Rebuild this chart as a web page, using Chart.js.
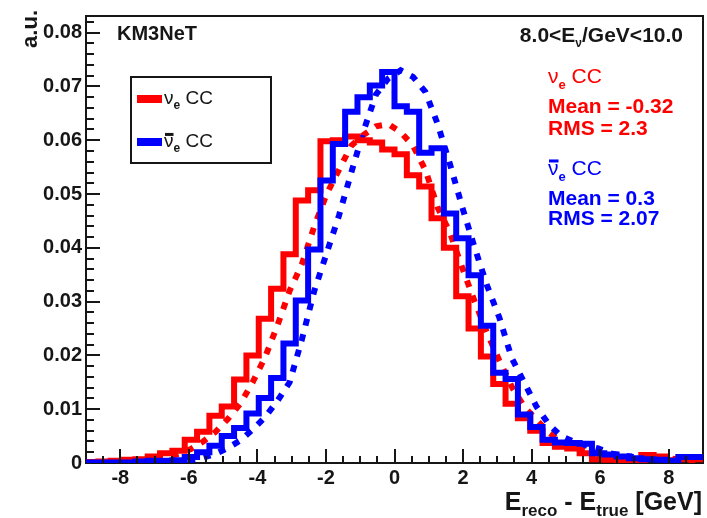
<!DOCTYPE html>
<html>
<head>
<meta charset="utf-8">
<script src="https://cdn.jsdelivr.net/npm/chart.js@4.4.1/dist/chart.umd.min.js"></script>
<style>
  html, body { margin: 0; padding: 0; background: #fff; }
  #wrap { width: 707px; height: 518px; }
</style>
</head>
<body>
<div id="wrap"><canvas id="c" width="707" height="518"></canvas></div>
<script>
// binning of the histograms (50 bins from -9 to 9 GeV)
const xMin = -9, xMax = 9, binWidth = 0.36;
const yMax = 0.0831;

const xTicks = [-8, -6, -4, -2, 0, 2, 4, 6, 8];
const yTicks = [0, 0.01, 0.02, 0.03, 0.04, 0.05, 0.06, 0.07, 0.08];

// nu_e CC, solid histogram (bin contents, a.u.)
const nueSolid = [
  0.0002, 0.0002, 0.0003, 0.0004, 0.0006, 0.0007, 0.0012, 0.0018, 0.0023, 0.0043,
  0.0058, 0.0088, 0.0105, 0.0155, 0.0200, 0.0268, 0.0324, 0.0388, 0.0488, 0.0507,
  0.0598, 0.0600, 0.0607, 0.0600, 0.0596, 0.0583, 0.0574, 0.0535, 0.0514, 0.0455,
  0.0400, 0.0310, 0.0250, 0.0198, 0.0147, 0.0110, 0.0083, 0.0060, 0.0037, 0.0030,
  0.0027, 0.0018, 0.0007, 0.0006, 0.0004, 0.0004, 0.0015, 0.0012, 0.0005, 0.0007
];
// anti-nu_e CC, solid histogram
const nuebarSolid = [
  0.0001, 0.0001, 0.0001, 0.0001, 0.0001, 0.0003, 0.0004, 0.0004, 0.0005, 0.0011,
  0.0020, 0.0032, 0.0050, 0.0065, 0.0092, 0.0121, 0.0158, 0.0222, 0.0302, 0.0397,
  0.0525, 0.0593, 0.0653, 0.0680, 0.0702, 0.0727, 0.0663, 0.0653, 0.0577, 0.0585,
  0.0464, 0.0418, 0.0349, 0.0255, 0.0168, 0.0156, 0.0090, 0.0067, 0.0043, 0.0038,
  0.0037, 0.0036, 0.0018, 0.0016, 0.0012, 0.0009, 0.0007, 0.0006, 0.0004, 0.0011
];
// dotted curves (values at bin centres)
const nueDotted = [
  0.0002, 0.0002, 0.0002, 0.0003, 0.0005, 0.0007, 0.0011, 0.0017, 0.0026, 0.0040,
  0.0058, 0.0082, 0.0110, 0.0150, 0.0196, 0.0255, 0.0320, 0.0370, 0.0440, 0.0500,
  0.0545, 0.0590, 0.0610, 0.0626, 0.0630, 0.0615, 0.0590, 0.0545, 0.0475, 0.0428,
  0.0362, 0.0300, 0.0242, 0.0190, 0.0142, 0.0105, 0.0080, 0.0057, 0.0040, 0.0030,
  0.0024, 0.0017, 0.0010, 0.0007, 0.0005, 0.0005, 0.0008, 0.0008, 0.0005, 0.0005
];
const nuebarDotted = [
  0.0001, 0.0001, 0.0001, 0.0001, 0.0001, 0.0001, 0.0002, 0.0003, 0.0005, 0.0010,
  0.0017, 0.0028, 0.0042, 0.0062, 0.0085, 0.0115, 0.0150, 0.0230, 0.0320, 0.0390,
  0.0460, 0.0540, 0.0618, 0.0685, 0.0715, 0.0730, 0.0718, 0.0690, 0.0630, 0.0555,
  0.0475, 0.0400, 0.0330, 0.0270, 0.0195, 0.0150, 0.0105, 0.0072, 0.0050, 0.0040,
  0.0033, 0.0027, 0.0018, 0.0014, 0.0011, 0.0009, 0.0007, 0.0006, 0.0006, 0.0009
];

const statsNue = { mean: '-0.32', rms: '2.3' };
const statsNuebar = { mean: '0.3', rms: '2.07' };

const RED = '#ff0000', BLUE = '#0000ff', INK = '#161616';
const FONT = '"Liberation Sans", Arial, Helvetica, sans-serif';
const font = (sz, bold) => (bold ? 'bold ' : '') + sz + 'px ' + FONT;

// histogram outline: points on the left bin edges, stepped
function stepPoints(vals){
  const pts = vals.map((v, i) => ({ x: xMin + i * binWidth, y: v }));
  pts.push({ x: xMax, y: vals[vals.length - 1] });
  return pts;
}
function centerPoints(vals){
  return vals.map((v, i) => ({ x: xMin + (i + 0.5) * binWidth, y: v }));
}

// text pieces: [text, size, bold, dy, overbarColor]
function drawParts(ctx, x, y, parts, align){
  let total = 0;
  parts.forEach(p => { ctx.font = font(p[1], p[2]); total += ctx.measureText(p[0]).width; });
  let cx = align === 'right' ? x - total : x;
  const col = ctx.fillStyle;
  parts.forEach(p => {
    ctx.font = font(p[1], p[2]);
    const w = ctx.measureText(p[0]).width;
    ctx.fillStyle = col;
    ctx.fillText(p[0], cx, y + (p[3] || 0));
    if (p[4]){
      ctx.fillStyle = p[4];
      ctx.fillRect(cx + 1, y - p[1] * 0.74, w - 1, 3);
    }
    cx += w;
  });
  ctx.fillStyle = col;
}

const framePlugin = {
  id: 'frame',
  beforeDatasetsDraw(chart){
    const { ctx, chartArea: a } = chart;
    ctx.save();
    ctx.strokeStyle = INK;
    ctx.lineWidth = 2;
    ctx.strokeRect(a.left, a.top, a.right - a.left, a.bottom - a.top);
    ctx.restore();
  },
  afterDatasetsDraw(chart){
    const { ctx, chartArea: a } = chart;
    const xs = chart.scales.x, ys = chart.scales.y;
    ctx.save();
    ctx.strokeStyle = INK;
    ctx.lineWidth = 2;
    ctx.beginPath();
    // x ticks every 0.5, major every 2
    for (let i = -18; i <= 18; i++){
      const v = i / 2;
      const px = Math.round(xs.getPixelForValue(v));
      if (px <= a.left + 1 || px >= a.right - 1) continue;
      const len = (i % 4 === 0) ? 14 : 7;
      ctx.moveTo(px, a.bottom);
      ctx.lineTo(px, a.bottom - len);
    }
    // y ticks every 0.002, major every 0.01
    for (let i = 1; i <= 41; i++){
      const v = i * 0.002;
      if (v > yMax) break;
      const py = Math.round(ys.getPixelForValue(v));
      const len = (i % 5 === 0) ? 14 : 8;
      ctx.moveTo(a.left, py);
      ctx.lineTo(a.left + len, py);
    }
    ctx.stroke();
    ctx.restore();
  },
  afterDraw(chart){
    const { ctx } = chart;
    ctx.save();
    ctx.textBaseline = 'alphabetic';
    ctx.textAlign = 'left';

    // KM3NeT label
    ctx.fillStyle = INK;
    ctx.font = font(20, true);
    ctx.fillText('KM3NeT', 117, 40);

    // energy range
    drawParts(ctx, 683, 42, [['8.0<E', 21, true], ['ν', 12, true, 5], ['/GeV<10.0', 21, true]], 'right');

    // legend box
    ctx.strokeStyle = INK;
    ctx.lineWidth = 2;
    ctx.strokeRect(131, 77, 140, 86);
    ctx.fillStyle = RED;
    ctx.fillRect(137, 95, 25, 8);
    ctx.fillStyle = BLUE;
    ctx.fillRect(137, 138, 25, 8);
    ctx.fillStyle = INK;
    drawParts(ctx, 164, 104, [['ν', 19, false], ['e', 12, true, 5], [' CC', 19, false]]);
    drawParts(ctx, 164, 147, [['ν', 19, false, 0, INK], ['e', 12, true, 5], [' CC', 19, false]]);

    // statistics
    ctx.fillStyle = RED;
    drawParts(ctx, 548, 83, [['ν', 21, false], ['e', 13, true, 6], [' CC', 21, false]]);
    ctx.font = font(21, true);
    ctx.fillText('Mean = ' + statsNue.mean, 548, 113);
    ctx.fillText('RMS = ' + statsNue.rms, 548, 135);
    ctx.fillStyle = BLUE;
    drawParts(ctx, 548, 175, [['ν', 21, false, 0, BLUE], ['e', 13, true, 6], [' CC', 21, false]]);
    ctx.font = font(21, true);
    ctx.fillText('Mean = ' + statsNuebar.mean, 548, 205);
    ctx.fillText('RMS = ' + statsNuebar.rms, 548, 225);

    // x axis title
    ctx.fillStyle = INK;
    drawParts(ctx, 702, 510, [['E', 25, true], ['reco', 17, true, 6], [' - E', 25, true], ['true', 17, true, 6], [' [GeV]', 25, true]], 'right');

    // y axis title
    ctx.translate(37, 10);
    ctx.rotate(-Math.PI / 2);
    ctx.textAlign = 'right';
    ctx.font = font(22, true);
    ctx.fillText('a.u.', 0, 0);
    ctx.restore();
  }
};

const solid = (vals, color, order) => ({
  data: stepPoints(vals),
  stepped: 'after',
  borderColor: color,
  borderWidth: 6,
  borderJoinStyle: 'miter',
  borderCapStyle: 'butt',
  pointRadius: 0,
  fill: false,
  order
});
const dotted = (vals, color, order) => ({
  data: centerPoints(vals),
  borderColor: color,
  borderWidth: 6,
  borderDash: [7, 9],
  borderCapStyle: 'butt',
  tension: 0,
  pointRadius: 0,
  fill: false,
  order
});

new Chart(document.getElementById('c'), {
  type: 'line',
  data: {
    datasets: [
      solid(nuebarSolid, BLUE, 0),
      solid(nueSolid, RED, 1),
      dotted(nuebarDotted, BLUE, 2),
      dotted(nueDotted, RED, 3)
    ]
  },
  options: {
    responsive: false,
    animation: false,
    devicePixelRatio: 1,
    layout: { padding: { top: 10, right: 4, left: 0, bottom: 0 } },
    plugins: { legend: { display: false }, tooltip: { enabled: false } },
    scales: {
      x: {
        type: 'linear',
        min: xMin, max: xMax,
        grid: { display: false, drawTicks: false },
        border: { display: false },
        afterBuildTicks: s => { s.ticks = xTicks.map(v => ({ value: v })); },
        afterFit: s => { s.height = 55; },
        ticks: {
          padding: 3, maxRotation: 0, autoSkip: false, color: INK,
          font: { family: FONT, size: 20, weight: 'bold' },
          callback: v => String(v)
        }
      },
      y: {
        type: 'linear',
        min: 0, max: yMax,
        grid: { display: false, drawTicks: false },
        border: { display: false },
        afterBuildTicks: s => { s.ticks = yTicks.map(v => ({ value: v })); },
        afterFit: s => { s.width = 86; },
        ticks: {
          padding: 4, autoSkip: false, color: INK,
          font: { family: FONT, size: 20, weight: 'bold' },
          callback: v => v === 0 ? '0' : v.toFixed(2)
        }
      }
    }
  },
  plugins: [framePlugin]
});
</script>
</body>
</html>
